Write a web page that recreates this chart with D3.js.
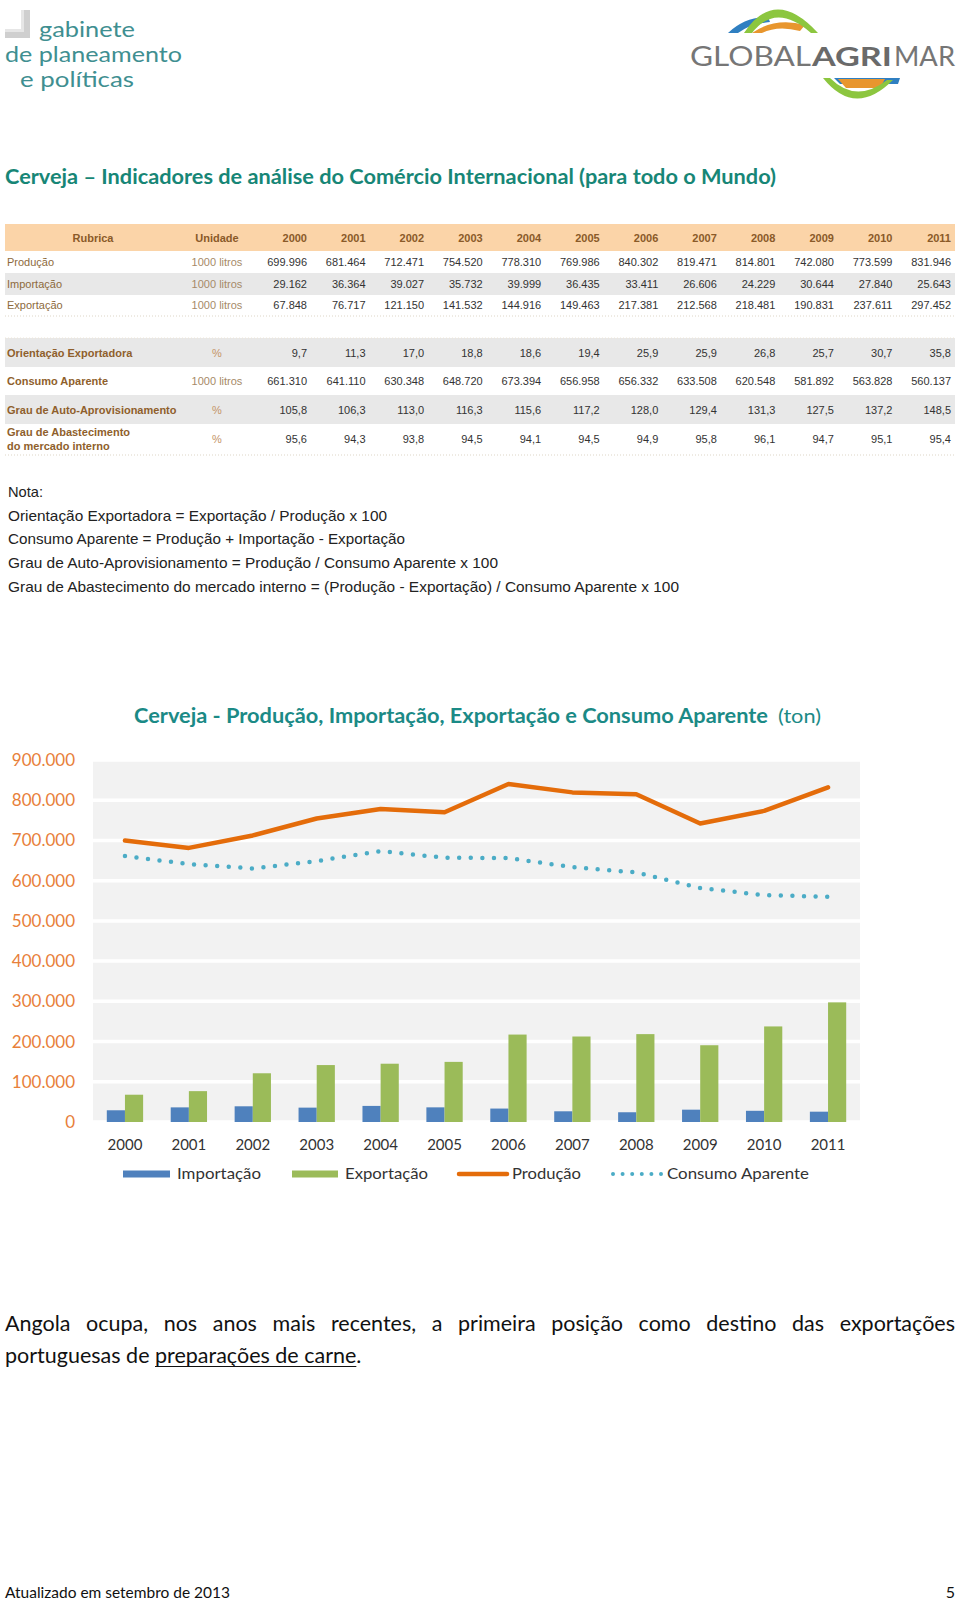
<!DOCTYPE html>
<html><head><meta charset="utf-8">
<script src="https://cdn.jsdelivr.net/npm/d3@7"></script>
<style>body{margin:0;background:#fff}svg{display:block}</style>
</head><body><svg id="page" width="960" height="1604"></svg>
<script>
// ---------------- DATA ----------------
const years = [2000,2001,2002,2003,2004,2005,2006,2007,2008,2009,2010,2011];
const producao   = [699996,681464,712471,754520,778310,769986,840302,819471,814801,742080,773599,831946];
const importacao = [29162,36364,39027,35732,39999,36435,33411,26606,24229,30644,27840,25643];
const exportacao = [67848,76717,121150,141532,144916,149463,217381,212568,218481,190831,237611,297452];
const orientacao = [9.7,11.3,17.0,18.8,18.6,19.4,25.9,25.9,26.8,25.7,30.7,35.8];
const consumo    = [661310,641110,630348,648720,673394,656958,656332,633508,620548,581892,563828,560137];
const grauAuto   = [105.8,106.3,113.0,116.3,115.6,117.2,128.0,129.4,131.3,127.5,137.2,148.5];
const grauAbast  = [95.6,94.3,93.8,94.5,94.1,94.5,94.9,95.8,96.1,94.7,95.1,95.4];
const yTicks = [0,100000,200000,300000,400000,500000,600000,700000,800000,900000];
const seriesNames = ["Importação","Exportação","Produção","Consumo Aparente"];
const notas = ["Nota:",
  "Orientação Exportadora = Exportação / Produção x 100",
  "Consumo Aparente = Produção + Importação - Exportação",
  "Grau de Auto-Aprovisionamento = Produção / Consumo Aparente x 100",
  "Grau de Abastecimento do mercado interno = (Produção - Exportação) / Consumo Aparente x 100"];

// ---------------- SETUP ----------------
const pt = d3.formatLocale({decimal:",", thousands:".", grouping:[3], currency:["",""]});
const fInt = pt.format(",d"), fDec = pt.format(".1f");
const svg = d3.select("#page");
svg.append("rect").attr("width",960).attr("height",1604).attr("fill","#fff");
const CAL = "Lato, 'Open Sans', sans-serif";
const ARI = "'Liberation Sans', Arial, sans-serif";

// ---------------- LOGOS ----------------
const lg = svg.append("g");
lg.append("path").attr("d","M21,10 L30,10 L30,38 L5,38 L5,29 L21,29 Z").attr("fill","#cfcfcf");
lg.append("path").attr("d","M21,10 L24,10 L24,32 L5,32 L5,29 L21,29 Z").attr("fill","#e6e6e6");
const logoTxt = [["gabinete",39,37,96],["de planeamento",5,62,177],["e políticas",20,87,114]];
lg.selectAll("text.lt").data(logoTxt).join("text").attr("class","lt")
  .attr("x",d=>d[1]).attr("y",d=>d[2]).attr("textLength",d=>d[3]).attr("lengthAdjust","spacingAndGlyphs")
  .attr("font-family",CAL).attr("font-size",20.5).attr("fill","#3f8f91").text(d=>d[0]);

const rg = svg.append("g");
rg.append("path").attr("d","M728,33 Q745,17 768,17 L770,22 Q750,24 738,33 Z").attr("fill","#2f7fc1");
rg.append("path").attr("d","M752,33 Q775,17 805,25 L800,31 Q778,25 762,33 Z").attr("fill","#e8962e");
rg.append("path").attr("d","M744,33 Q775,-14 818,33 L811,33 Q776,2 752,33 Z").attr("fill","#8cc63f");
const gParts = [["GLOBAL",690,121,"normal","#767676"],["AGRI",812,80,"bold","#6a6a6a"],["MAR",894,61,"normal","#767676"]];
rg.selectAll("text.gl").data(gParts).join("text").attr("class","gl")
  .attr("x",d=>d[1]).attr("y",66).attr("textLength",d=>d[2]).attr("lengthAdjust","spacingAndGlyphs")
  .attr("font-family",CAL).attr("font-size",27).attr("font-weight",d=>d[3]).attr("fill",d=>d[4]).text(d=>d[0]);
rg.append("path").attr("d","M834,78 L900,78 L898,84 L840,84 Z").attr("fill","#2f7fc1");
rg.append("path").attr("d","M838,79 L885,79 L880,88 L846,88 Z").attr("fill","#e8962e");
rg.append("path").attr("d","M823,78 Q855,118 893,80 L887,80 Q856,104 830,78 Z").attr("fill","#8cc63f");

// ---------------- PAGE TITLE ----------------
svg.append("text").attr("x",5).attr("y",184).attr("font-family",CAL).attr("font-weight","bold")
  .attr("font-size",20).attr("fill","#178676").attr("textLength",771).attr("lengthAdjust","spacingAndGlyphs")
  .text("Cerveja – Indicadores de análise do Comércio Internacional (para todo o Mundo)");

// ---------------- TABLES ----------------
const colX = d3.scalePoint().domain(years).range([307,951]);
const tbl = svg.append("g").attr("font-family",ARI).attr("font-size",11);
tbl.append("rect").attr("x",5).attr("y",224).attr("width",950).attr("height",27).attr("fill","#fbd4a8");
const hdrCol = "#8a5a28";
tbl.append("text").attr("x",93).attr("y",242).attr("text-anchor","middle").attr("font-weight","bold").attr("fill",hdrCol).text("Rubrica");
tbl.append("text").attr("x",217).attr("y",242).attr("text-anchor","middle").attr("font-weight","bold").attr("fill",hdrCol).text("Unidade");
tbl.selectAll("text.hy").data(years).join("text").attr("class","hy").attr("x",d=>colX(d)).attr("y",242)
  .attr("text-anchor","end").attr("font-weight","bold").attr("fill",hdrCol).text(d=>d);

const rows1 = [
  {label:"Produção", unit:"1000 litros", vals:producao, fmt:fInt, cy:262, bg:false},
  {label:"Importação", unit:"1000 litros", vals:importacao, fmt:fInt, cy:284, bg:true},
  {label:"Exportação", unit:"1000 litros", vals:exportacao, fmt:fInt, cy:305, bg:false}
];
const rows2 = [
  {label:["Orientação Exportadora"], unit:"%", vals:orientacao, fmt:fDec, cy:353, bg:true, top:338, h:29},
  {label:["Consumo Aparente"], unit:"1000 litros", vals:consumo, fmt:fInt, cy:381, bg:false},
  {label:["Grau de Auto-Aprovisionamento"], unit:"%", vals:grauAuto, fmt:fDec, cy:410, bg:true, top:395, h:29},
  {label:["Grau de Abastecimento","do mercado interno"], unit:"%", vals:grauAbast, fmt:fDec, cy:439, bg:false}
];
function drawRows(rows, bold){
  rows.forEach(r=>{
    if(r.bg) tbl.append("rect").attr("x",5).attr("y",r.top!==undefined?r.top:r.cy-11).attr("width",950)
      .attr("height",r.h||22).attr("fill","#e8e8e8");
    const labs = Array.isArray(r.label)?r.label:[r.label];
    labs.forEach((l,i)=>{
      tbl.append("text").attr("x",7).attr("y",r.cy+4+(labs.length>1?(i-0.5)*14:0))
        .attr("font-weight",bold?"bold":"normal").attr("fill",bold?"#8f5f2c":"#8d6a3c").text(l);
    });
    tbl.append("text").attr("x",217).attr("y",r.cy+4).attr("text-anchor","middle")
      .attr("fill",r.unit==="%"?"#c49467":"#a68a68").text(r.unit);
    tbl.selectAll(null).data(r.vals).join("text").attr("x",(d,i)=>colX(years[i])).attr("y",r.cy+4)
      .attr("text-anchor","end").attr("fill","#333").text(d=>r.fmt(d));
  });
}
drawRows(rows1,false);
drawRows(rows2,true);
[316,455].forEach(yy=>tbl.append("line").attr("x1",5).attr("x2",955).attr("y1",yy).attr("y2",yy)
  .attr("stroke","#ddd5c6").attr("stroke-dasharray","1,2"));
tbl.append("line").attr("x1",5).attr("x2",955).attr("y1",338).attr("y2",338).attr("stroke","#eee6d8").attr("stroke-dasharray","1,2");

// ---------------- NOTES ----------------
const noteW = [35,379,397,490,671];
const noteY = [497,521,544,568,592];
svg.selectAll("text.nota").data(notas).join("text").attr("class","nota")
  .attr("x",8).attr("y",(d,i)=>noteY[i]).attr("font-family",ARI).attr("font-size",14.5).attr("fill","#222")
  .attr("textLength",(d,i)=>noteW[i]).attr("lengthAdjust","spacingAndGlyphs").text(d=>d);

// ---------------- CHART ----------------
const ch = svg.append("g");
ch.append("text").attr("x",134).attr("y",723).attr("font-family",CAL).attr("font-size",20).attr("font-weight","bold")
  .attr("fill","#1b8a86").attr("textLength",634).attr("lengthAdjust","spacingAndGlyphs")
  .text("Cerveja - Produção, Importação, Exportação e Consumo Aparente");
ch.append("text").attr("x",778).attr("y",723).attr("font-family",CAL).attr("font-size",20)
  .attr("fill","#1b8a86").attr("textLength",43).attr("lengthAdjust","spacingAndGlyphs").text("(ton)");

const x = d3.scaleBand().domain(years).range([93,860]);
const xs = d3.scaleBand().domain(["imp","exp"]).range([0,x.bandwidth()]).paddingInner(0).paddingOuter(0.76);
const y = d3.scaleLinear().domain([0,900000]).range([1122,760]);

ch.append("rect").attr("x",93).attr("y",y(900000)).attr("width",767).attr("height",y(0)-y(900000)).attr("fill","#f2f2f2");
ch.selectAll("line.grid").data(yTicks).join("line").attr("class","grid")
  .attr("x1",93).attr("x2",860).attr("y1",d=>y(d)).attr("y2",d=>y(d)).attr("stroke","#fff").attr("stroke-width",3.5);

const yAxis = ch.append("g").attr("transform","translate(75,0)")
  .call(d3.axisLeft(y).tickValues(yTicks).tickFormat(d=>fInt(d)).tickSize(0).tickPadding(0));
yAxis.select(".domain").remove();
yAxis.selectAll("text").attr("font-family",CAL).attr("font-size",17).attr("fill","#e8803a");

const xAxis = ch.append("g").attr("transform",`translate(0,${y(0)})`)
  .call(d3.axisBottom(x).tickSize(0).tickPadding(17));
xAxis.select(".domain").remove();
xAxis.selectAll("text").attr("font-family",CAL).attr("font-size",15).attr("fill","#333");

ch.selectAll("rect.imp").data(importacao).join("rect").attr("class","imp")
  .attr("x",(d,i)=>x(years[i])+xs("imp")).attr("width",xs.bandwidth()).attr("y",d=>y(d)).attr("height",d=>y(0)-y(d)).attr("fill","#4f81bd");
ch.selectAll("rect.exp").data(exportacao).join("rect").attr("class","exp")
  .attr("x",(d,i)=>x(years[i])+xs("exp")).attr("width",xs.bandwidth()).attr("y",d=>y(d)).attr("height",d=>y(0)-y(d)).attr("fill","#9bbb59");

const line = d3.line().x((d,i)=>x(years[i])+x.bandwidth()/2).y(d=>y(d));
ch.append("path").datum(consumo).attr("d",line).attr("fill","none").attr("stroke","#4bacc6")
  .attr("stroke-width",4.5).attr("stroke-linecap","round").attr("stroke-dasharray","0 11.6");
ch.append("path").datum(producao).attr("d",line).attr("fill","none").attr("stroke","#e46c0a")
  .attr("stroke-width",4.5).attr("stroke-linejoin","round").attr("stroke-linecap","round");

// legend
const lgY = 1174;
const leg = ch.append("g").attr("font-family",CAL).attr("font-size",15).attr("fill","#333");
leg.append("rect").attr("x",123).attr("y",lgY-3.5).attr("width",47).attr("height",7).attr("fill","#4f81bd");
leg.append("rect").attr("x",292).attr("y",lgY-3.5).attr("width",46).attr("height",7).attr("fill","#9bbb59");
leg.append("line").attr("x1",459).attr("x2",507).attr("y1",lgY).attr("y2",lgY).attr("stroke","#e46c0a").attr("stroke-width",4.5).attr("stroke-linecap","round");
leg.append("line").attr("x1",613).attr("x2",662).attr("y1",lgY).attr("y2",lgY).attr("stroke","#4bacc6").attr("stroke-width",4).attr("stroke-linecap","round").attr("stroke-dasharray","0 9.6");
const legTxt = [[177,84],[345,83],[512,69],[667,142]];
leg.selectAll("text").data(seriesNames).join("text").attr("x",(d,i)=>legTxt[i][0]).attr("y",lgY+5)
  .attr("textLength",(d,i)=>legTxt[i][1]).attr("lengthAdjust","spacingAndGlyphs").text(d=>d);

// ---------------- PARAGRAPH ----------------
const para = svg.append("g").attr("font-family",CAL).attr("font-size",21.5).attr("fill","#111");
const words = "Angola ocupa, nos anos mais recentes, a primeira posição como destino das exportações".split(" ");
const wEls = words.map(w=>para.append("text").attr("y",1331).text(w));
const widths = wEls.map(e=>e.node().getComputedTextLength());
const gap = (950 - d3.sum(widths))/(words.length-1);
let cx = 5;
wEls.forEach((e,i)=>{ e.attr("x",cx); cx += widths[i]+gap; });
const probe = para.append("text").text("a a");
const probe2 = para.append("text").text("aa");
const sp = probe.node().getComputedTextLength() - probe2.node().getComputedTextLength();
probe.remove(); probe2.remove();
const t1 = para.append("text").attr("x",5).attr("y",1363).text("portuguesas de");
const w1 = t1.node().getComputedTextLength() + sp;
const t2 = para.append("text").attr("x",5+w1).attr("y",1363).text("preparações de carne");
const w2 = t2.node().getComputedTextLength();
para.append("text").attr("x",5+w1+w2).attr("y",1363).text(".");
para.append("line").attr("x1",5+w1).attr("x2",5+w1+w2).attr("y1",1366.5).attr("y2",1366.5).attr("stroke","#111").attr("stroke-width",1.2);

// ---------------- FOOTER ----------------
svg.append("text").attr("x",5).attr("y",1598).attr("font-family",CAL).attr("font-size",16).attr("fill","#111")
  .attr("textLength",225).attr("lengthAdjust","spacingAndGlyphs").text("Atualizado em setembro de 2013");
svg.append("text").attr("x",955).attr("y",1598).attr("text-anchor","end").attr("font-family",CAL).attr("font-size",16).attr("fill","#111").text("5");
</script>
</body></html>
